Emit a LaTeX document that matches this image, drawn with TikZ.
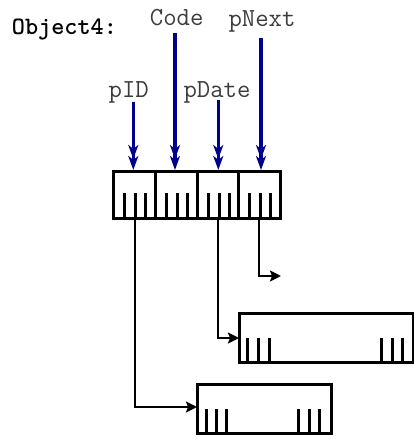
\documentclass[tikz,border=0pt]{standalone}
\usepackage{fontspec}
\usetikzlibrary{arrows.meta}
\definecolor{ptrblue}{RGB}{0,0,140}
\definecolor{labgray}{RGB}{60,60,60}
\begin{document}
\begin{tikzpicture}[x=1pt,y=-1pt,
  box/.style={draw,line width=3pt,inner sep=0pt,outer sep=0pt,anchor=north west},
  tick/.style={line width=3pt},
  link/.style={line width=2.3pt,-{Stealth[length=11pt,width=11pt,inset=2pt]}},
  varptr/.style={draw=ptrblue,line width=3.2pt,-{Stealth[length=14pt,width=10pt,inset=4pt,sep=-3pt]Stealth[length=14pt,width=10pt,inset=4pt]}},
  lab/.style={font=\ttfamily\fontsize{26}{26}\selectfont,text=labgray,inner sep=0pt,anchor=base},
]
\useasboundingbox (0,0) rectangle (414,439);

% title
\node[font=\ttfamily\bfseries\fontsize{25}{25}\selectfont,inner sep=0pt,anchor=base west] (obj4) at (11.7,34.3) {Object4:};

% main object
\node[box,minimum width=167pt,minimum height=47pt] (obj) at (113,171) {};
\foreach \x in {155,197,238} \draw[tick] (\x,171) -- (\x,218);
\foreach \L in {113,155,197,238}
  \foreach \d in {11,22,32}
    \draw[tick] (\L+\d,193) -- (\L+\d,218);

% middle target box
\node[box,minimum width=174pt,minimum height=49pt] (b1) at (239,313) {};
\foreach \x in {247.7,258.3,269,381.7,392.3,402.7} \draw[tick] (\x,338) -- (\x,362);

% bottom target box
\node[box,minimum width=134pt,minimum height=49pt] (b2) at (197,384) {};
\foreach \x in {206,216.7,226.7,298.3,309,319.3} \draw[tick] (\x,409) -- (\x,433);

% links
\coordinate (s1) at (135,218);
\coordinate (e1) at (197,407);
\draw[link] (s1) |- (e1);
\coordinate (s3) at (217.7,218);
\coordinate (e3) at (239,338);
\draw[link] (s3) |- (e3);
\coordinate (s4) at (259.3,218);
\coordinate (e4) at (281,276);
\draw[link] (s4) |- (e4);

% variable labels
\node[lab] (lID) at (128.7,97) {pID};
\node[lab] (lCode) at (176.7,25.7) {Code};
\node[lab] (lDate) at (217,97) {pDate};
\node[lab] (lNext) at (262,27) {pNext};

\coordinate (f1) at (133.3,101.7);
\coordinate (t1) at (133.3,170);
\coordinate (f2) at (175,33.3);
\coordinate (t2) at (175,170);
\coordinate (f3) at (218.3,100);
\coordinate (t3) at (218.3,170);
\coordinate (f4) at (261,37.7);
\coordinate (t4) at (261,170);
\draw[varptr] (f1) -- (t1);
\draw[varptr] (f2) -- (t2);
\draw[varptr] (f3) -- (t3);
\draw[varptr] (f4) -- (t4);
\end{tikzpicture}
\end{document}
